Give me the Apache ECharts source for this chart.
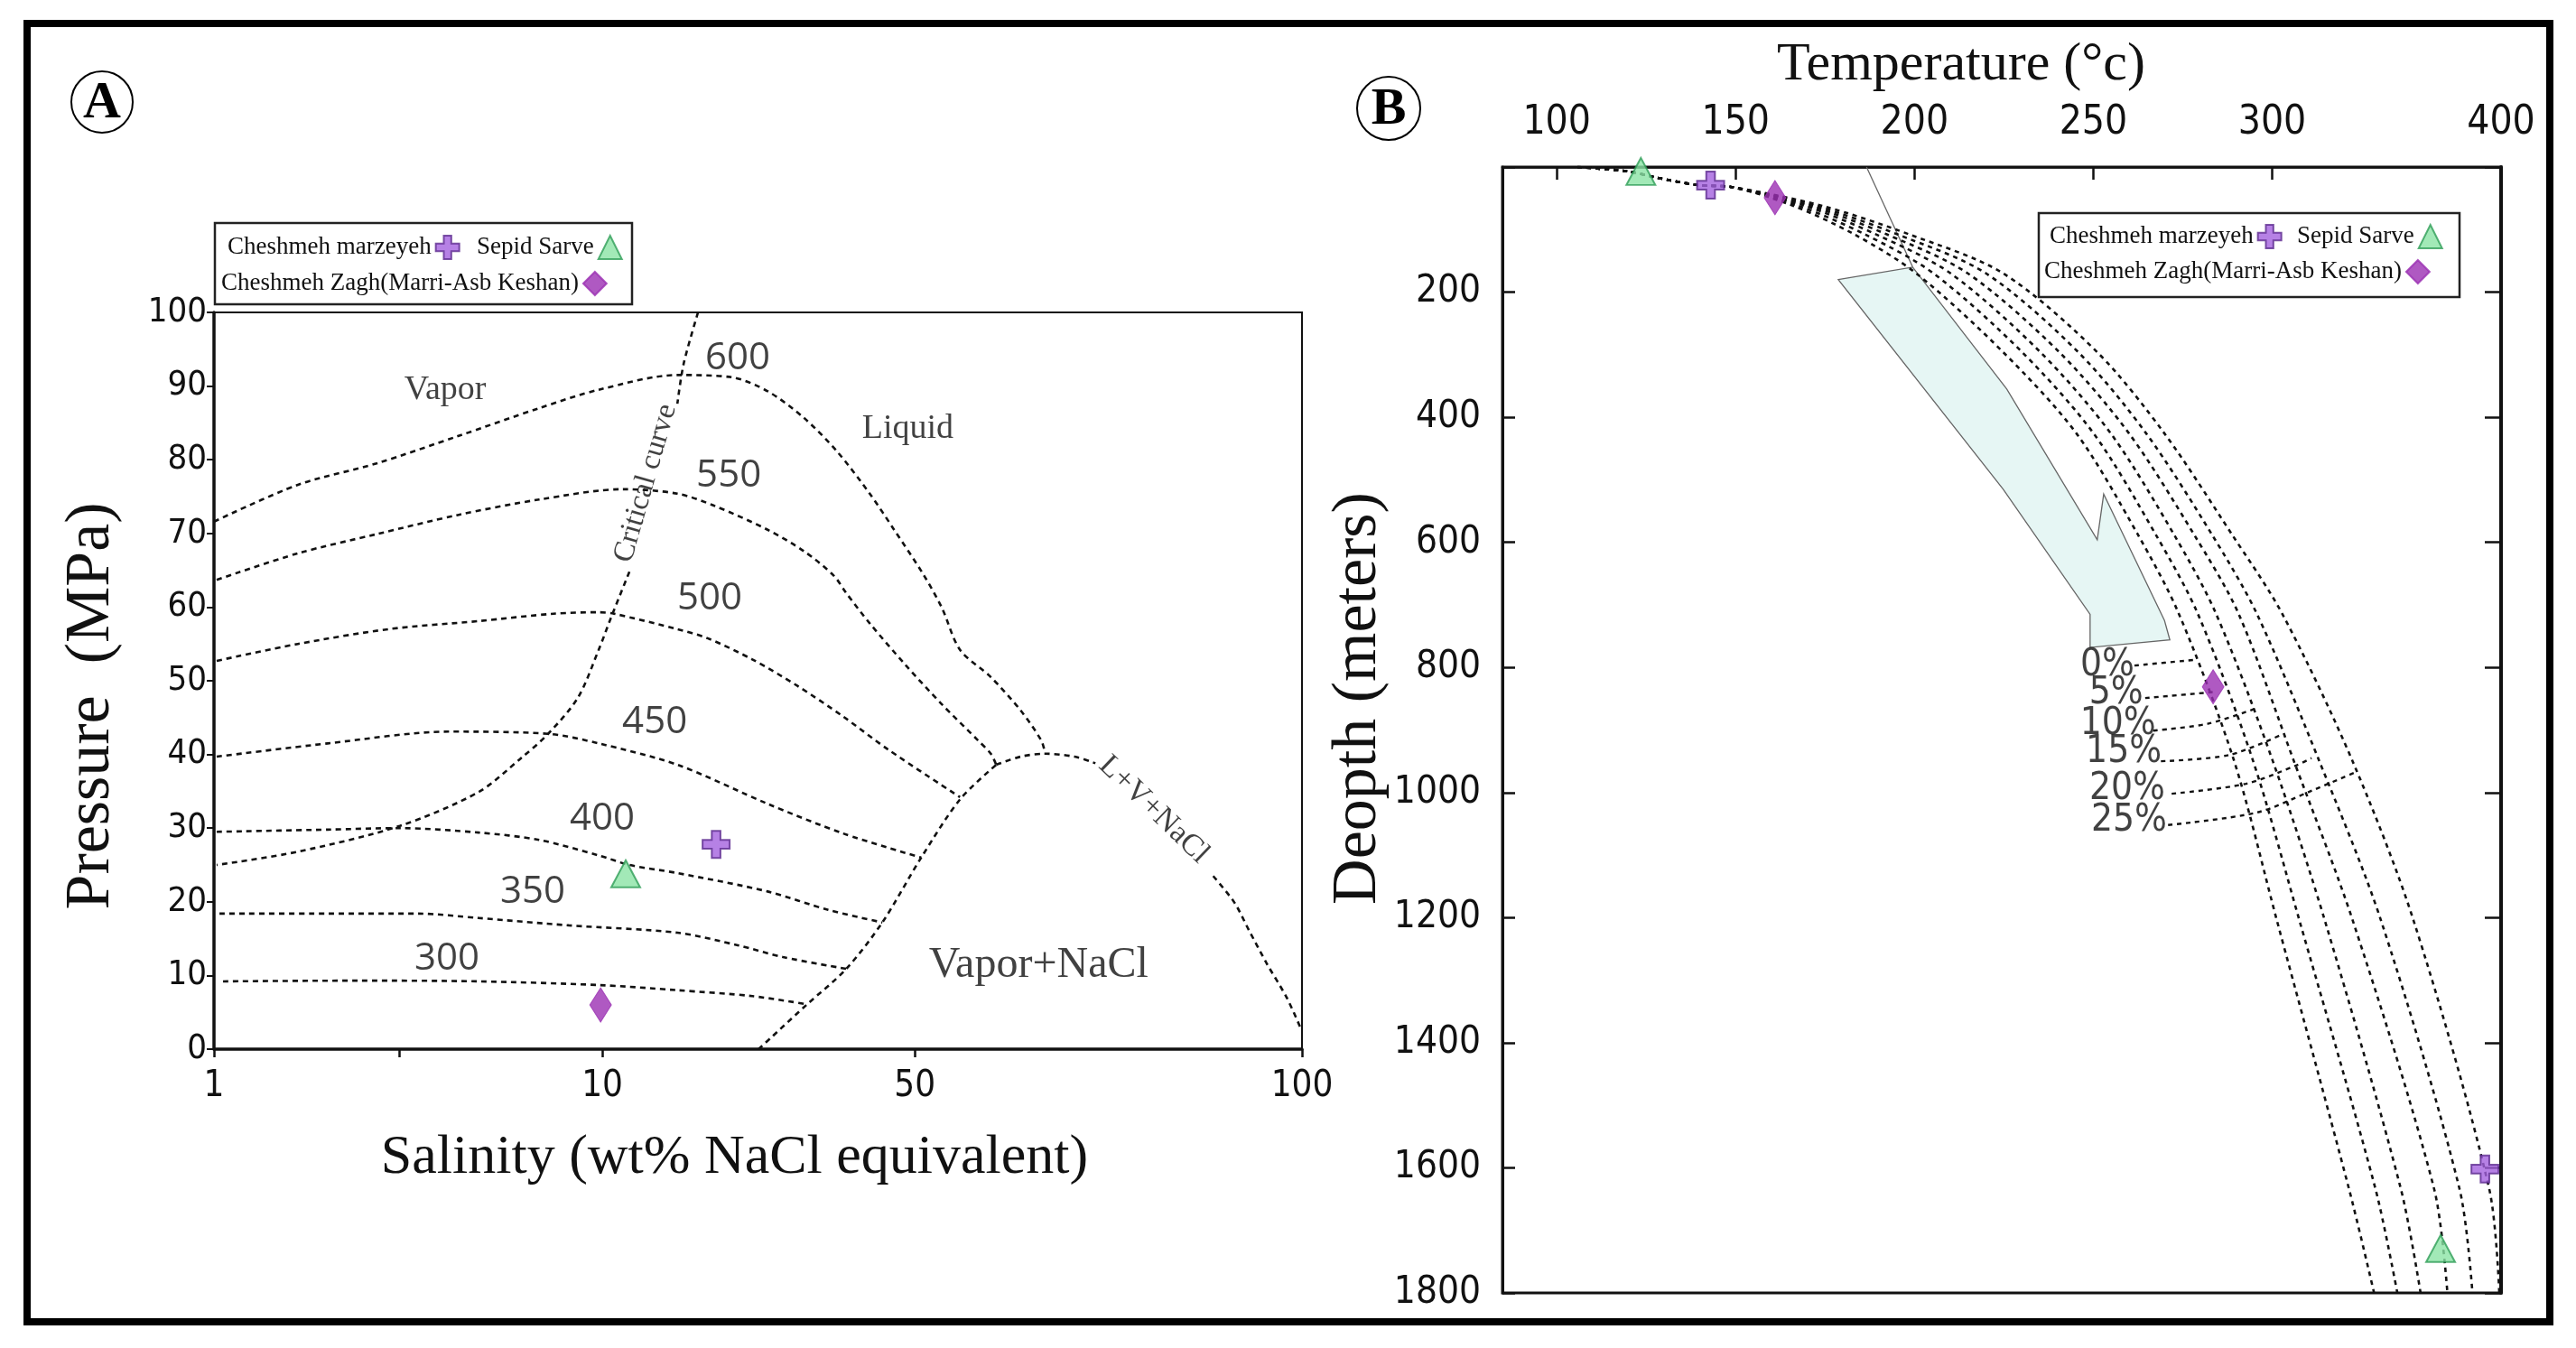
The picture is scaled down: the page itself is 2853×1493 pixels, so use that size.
<!DOCTYPE html>
<html><head><meta charset="utf-8">
<script src="https://cdn.jsdelivr.net/npm/echarts@6/dist/echarts.min.js"></script>
<style>html,body{margin:0;padding:0;background:#fff;}#c{width:2853px;height:1493px;}</style>
</head><body><div id="c"></div>
<script>
// ================= Panel A : Pressure vs Salinity =================
const salinityTickValues = [1, 3, 10, 50, 100];
const salinityLabelValues = [1, 10, 50, 100];
const salinityLabels = ['1', '10', '50', '100'];
// axis breaks (the salinity axis is a piecewise log scale)
const salinityKnots = [1, 10, 50, 100];
const salinityKnotUnits = [0, 1, 1.805, 2.802];

const iso600 = [[1.00,71.6],[1.645,76.6],[2.622,79.5],[4.246,83.2],[6.876,87.0],[9.788,89.5],[14.72,91.5],[19.45,91.2],[23.43,89.3],[28.22,85.7],[33.52,81.1],[39.63,75.4],[44.93,70.5],[50.82,64.3],[52.48,59.9],[54.21,54.2],[57.28,50.5],[60.41,46.0],[62.70,41.9],[63.10,40.3]];
const iso550 = [[1.016,63.7],[1.645,67.3],[2.622,69.9],[4.246,72.5],[6.876,74.6],[11.13,76.0],[14.72,75.4],[17.72,73.8],[23.43,70.5],[28.22,67.6],[32.90,64.3],[35.12,61.9],[39.63,57.8],[47.73,52.1],[52.48,46.8],[55.99,41.9],[57.28,40.1],[57.84,38.6]];
const iso500 = [[1.016,52.7],[1.645,55.0],[2.811,57.0],[4.802,58.1],[7.487,59.1],[9.788,59.3],[10.62,59.1],[14.72,57.0],[17.15,55.8],[21.65,52.9],[27.32,49.3],[34.47,45.2],[43.49,40.7],[54.21,34.2]];
const iso450 = [[1.016,39.7],[1.963,41.5],[4.024,43.1],[7.254,42.8],[9.788,41.5],[14.72,38.6],[23.43,33.3],[34.47,29.3],[50.57,26.0]];
const iso400 = [[1.016,29.5],[1.963,29.8],[3.01,30.0],[4.802,29.4],[6.876,28.4],[9.788,26.3],[11.50,25.0],[14.72,23.9],[23.43,21.4],[32.00,18.9],[42.29,17.2]];
const iso350 = [[1.033,18.4],[1.963,18.4],[3.355,18.4],[4.802,17.8],[8.204,16.8],[14.72,15.8],[20.09,14.1],[25.35,12.5],[35.12,10.9]];
const iso300 = [[1.055,9.2],[2.355,9.3],[4.802,9.2],[9.788,8.7],[14.72,8.0],[21.65,7.2],[28.61,6.1]];
const criticalUpper = [[16.37,100],[15.20,93.0],[14.72,87.6]];
const criticalLower = [[11.50,64.8],[10.48,58.7],[9.788,54.2],[8.653,47.7],[7.254,42.8],[6.177,39.5],[4.802,34.9],[3.01,30.3],[1.645,26.8],[1.016,25.0]];
const haliteBoundary = [[22.36,0],[28.61,6.0],[35.12,10.9],[42.29,17.2],[50.57,26.0],[54.21,33.9],[57.84,38.6]];
const threePhaseTop = [[57.84,38.6],[60.41,39.7],[63.10,40.1],[66.56,39.7],[69.08,38.8]];
const lvhLower = [[85.3,23.5],[88.6,19.9],[90.9,16.2],[93.9,11.6],[97.3,7.0],[99.84,2.7]];

const isoLabels = ['600','550','500','450','400','350','300'];
const isoLabelAt = [[20.09,93.75],[19.18,77.8],[17.39,61.2],[13.10,44.4],[10.0,31.25],[6.62,21.3],[3.98,12.25]];
const regionLabels = ['Vapor','Liquid','Vapor+NaCl'];
const regionLabelAt = [[3.94,89.5],[48.2,84.2],[62.4,11.3]];
const criticalLabel = 'Critical curve', criticalLabelAt = [12.5,76.8];
const lvhLabel = 'L+V+NaCl', lvhLabelAt = [76.7,32.5];

const sampleNames = ['Cheshmeh marzeyeh','Sepid Sarve','Cheshmeh Zagh(Marri-Asb Keshan)'];
const samplesA = [[17.97,27.8],[11.28,23.8],[9.9,6.0]];

// ================= Panel B : Depth vs Temperature =================
const tempTickValues = [100,150,200,250,300];
const tempLabelValues = [100,150,200,250,300,364];
const tempLabels = ['100','150','200','250','300','400'];
const depthLevels = [0,7,16,29,32,62,108,170,296,426,586,714,950,1204,1634,1800];
const bp0  = [105.8,120.0,127.1,139.7,148.9,166.1,183.3,200.5,224.8,245.3,262.3,273.9,289.4,301.3,321.5,328.5];
const bp5  = [105.8,120.0,127.1,139.7,148.9,167.6,186.3,205.3,230.1,250.1,267.3,279.2,294.7,307.6,328.9,335.0];
const bp10 = [105.8,120.0,127.1,139.7,148.9,169.4,189.4,210.1,235.2,254.9,272.4,284.3,300.2,314.7,336.0,341.5];
const bp15 = [105.8,120.0,127.1,139.7,148.9,170.9,192.4,214.9,240.5,260.0,278.0,290.6,306.1,322.5,345.3,349.0];
const bp20 = [105.8,120.0,127.1,139.7,148.9,172.4,195.4,220.0,245.8,264.8,283.0,295.7,313.2,330.4,352.4,356.0];
const bp25 = [105.8,120.0,127.1,139.7,148.9,174.2,198.7,224.8,251.1,269.9,288.6,302.8,322.5,339.5,360.7,363.5];
const pctLabels = ['0%','5%','10%','15%','20%','25%'];
const pctLabelAt = [[253.9,797],[256.4,841],[256.9,891],[258.5,935],[259.5,995],[260.0,1045]];
const leader0  = [[261.5,797],[278.2,788]];
const leader5  = [[264.5,849],[284.3,839]];
const leader10 = [[266.8,901],[282.0,890],[295.7,865]];
const leader15 = [[268.9,950],[288.0,940],[302.8,907]];
const leader20 = [[271.9,1002],[292.7,986],[307.0,956],[311.0,945]];
const leader25 = [[270.9,1052],[295.7,1032],[311.1,997],[323.5,967]];
const arrowOutline = [[178.7,180],[199.5,160],[225.8,355],[251.1,596],[252.9,523],[269.9,725],[271.4,756],[249.1,768],[249.1,715],[224.8,515]];
const arrowTail = [[186.6,0],[199.5,160]];
const samplesB = [
  [[143.0,29],[359.5,1602]],
  [[123.5,7],[347.1,1729]],
  [[161.0,49],[283.5,831]]
];

// ---------- helpers ----------
function toU(s){
  const L = Math.log10(s);
  for (let i = 0; i < salinityKnots.length - 1; i++) {
    const a = Math.log10(salinityKnots[i]), b = Math.log10(salinityKnots[i+1]);
    if (L <= b || i === salinityKnots.length - 2) {
      return salinityKnotUnits[i] + (L - a) / (b - a) * (salinityKnotUnits[i+1] - salinityKnotUnits[i]);
    }
  }
}
const mapA = pts => pts.map(p => [toU(p[0]), p[1]]);
const SERIF = '"Liberation Serif", "Times New Roman", serif';
const NARROW = '"Liberation Sans Narrow", "DejaVu Sans Condensed", "Open Sans", sans-serif';
const INK = '#111';
const dashA = {color: INK, width: 2.6, type: [6,5]};
const dashB = {color: INK, width: 2.6, type: [5,5]};

function lineA(name, pts){
  return {type:'line', name, xAxisIndex:0, yAxisIndex:0, data: mapA(pts), symbol:'none', smooth:0.3, lineStyle: dashA, silent:true, z:2};
}
function lineB(name, pts, w){
  return {type:'line', name, xAxisIndex:1, yAxisIndex:1, data: pts, symbol:'none', smooth:0.3, lineStyle: Object.assign({}, dashB, w ? {width:w} : {}), silent:true, z:3};
}
function labelSeries(ax, items, font, extra){
  return Object.assign({type:'scatter', xAxisIndex:ax, yAxisIndex:ax, symbol:'circle', symbolSize:1,
    itemStyle:{color:'rgba(0,0,0,0)'}, silent:true, z:6,
    data: items,
    label: Object.assign({show:true, position:'inside', formatter:'{b}', color: INK}, font)}, extra || {});
}

const crossPath = 'path://M34,0H66V34H100V66H66V100H34V66H0V34H34Z';
const sampleStyles = [
  {symbol: crossPath, symbolSize: 30, itemStyle:{color:'#a461de', borderColor:'#5d2a8f', borderWidth:2}},
  {symbol: 'triangle', symbolSize: [32,30], itemStyle:{color:'#8be3a5', borderColor:'#2f9e58', borderWidth:2}},
  {symbol: 'diamond', symbolSize: [24,38], itemStyle:{color:'#9b30b3', borderColor:'#9b30b3', borderWidth:1}}
];

const series = [];
[iso600, iso550, iso500, iso450, iso400, iso350, iso300].forEach((d,i) => series.push(lineA('iso' + isoLabels[i], d)));
series.push(lineA('critical-upper', criticalUpper));
series.push(lineA('critical-lower', criticalLower));
series.push(lineA('halite', haliteBoundary));
series.push(lineA('three-phase', threePhaseTop));
series.push(lineA('lvh', lvhLower));
series.push(labelSeries(0, isoLabels.map((t,i) => ({name:t, value:[toU(isoLabelAt[i][0]), isoLabelAt[i][1]]})),
  {fontFamily:'"Open Sans", sans-serif', fontSize:42}));
series.push(labelSeries(0, regionLabels.map((t,i) => ({name:t, value:[toU(regionLabelAt[i][0]), regionLabelAt[i][1]]})),
  {fontFamily: SERIF, fontSize:38}));
series[series.length-1].data[2].label = {fontSize:48};
series.push(labelSeries(0, [{name:criticalLabel, value:[toU(criticalLabelAt[0]), criticalLabelAt[1]]}],
  {fontFamily: SERIF, fontSize:33, rotate:74}));
series.push(labelSeries(0, [{name:lvhLabel, value:[toU(lvhLabelAt[0]), lvhLabelAt[1]]}],
  {fontFamily: SERIF, fontSize:34, rotate:-44}));

// Panel B arrow
series.push({type:'custom', xAxisIndex:1, yAxisIndex:1, silent:true, z:1, data:[arrowOutline[0]],
  renderItem: function(params, api){
    const pts = arrowOutline.map(p => api.coord(p));
    const tail = arrowTail.map(p => api.coord(p));
    return {type:'group', children:[
      {type:'polygon', shape:{points: pts}, style:{fill:'#e6f6f4', stroke:'#666', lineWidth:1.3}},
      {type:'polyline', shape:{points: tail}, style:{fill:null, stroke:'#666', lineWidth:1.3}}
    ]};
  }});
[bp0, bp5, bp10, bp15, bp20, bp25].forEach((t,i) => series.push(lineB('bp' + pctLabels[i], t.map((v,j) => [v, depthLevels[j]]))));
[leader0, leader5, leader10, leader15, leader20, leader25].forEach((d,i) => series.push(lineB('leader' + i, d, 2.4)));
series.push(labelSeries(1, pctLabels.map((t,i) => ({name:t, value:pctLabelAt[i]})), {fontFamily: NARROW, fontSize:42}));

// samples (both panels)
sampleNames.forEach((n,i) => {
  series.push(Object.assign({type:'scatter', name:n, xAxisIndex:0, yAxisIndex:0, z:8,
    data:[[toU(samplesA[i][0]), samplesA[i][1]]]}, sampleStyles[i]));
  series.push(Object.assign({type:'scatter', name:n, xAxisIndex:1, yAxisIndex:1, z:8, clip:false,
    data: samplesB[i]}, sampleStyles[i]));
});

// legends: one component per entry so the two-row layout of the figure is kept
const legendBase = {orient:'horizontal', align:'right', itemGap:8, itemWidth:26, itemHeight:26,
  padding:0, selectedMode:false, z:12,
  textStyle:{fontFamily: SERIF, fontSize:27, color: INK}};
function leg(name, left, top){ return Object.assign({data:[name], left, top}, legendBase); }

const tickFont = {fontFamily: NARROW, color: INK};

const option = {
  backgroundColor:'#fff',
  animation:false,
  grid:[
    {left:237, top:346, width:1205, height:816, show:true, borderColor:'#111', borderWidth:2, backgroundColor:'transparent'},
    {left:1664, top:185, width:1106, height:1247, show:true, borderColor:'#111', borderWidth:3, backgroundColor:'transparent'}
  ],
  legend:[
    leg(sampleNames[0], 252, 260), leg(sampleNames[1], 528, 260), leg(sampleNames[2], 245, 300),
    leg(sampleNames[0], 2270, 248), leg(sampleNames[1], 2544, 248), leg(sampleNames[2], 2264, 287)
  ],
  xAxis:[
    {type:'value', gridIndex:0, min:0, max: toU(100), position:'bottom',
     axisLine:{show:true, lineStyle:{color:'#111', width:3.5}},
     axisTick:{show:true, inside:false, length:9, lineStyle:{width:2.5}, customValues: salinityTickValues.map(toU)},
     axisLabel:Object.assign({show:true, fontSize:40, margin:22, customValues: salinityLabelValues.map(toU),
       formatter: v => { const i = salinityLabelValues.findIndex(s => Math.abs(toU(s) - v) < 1e-6); return i >= 0 ? salinityLabels[i] : ''; }}, tickFont),
     splitLine:{show:false},
     name:'Salinity (wt% NaCl equivalent)', nameLocation:'middle', nameGap:90,
     nameTextStyle:{fontFamily: SERIF, fontSize:62, color: INK, padding:[0,52,0,0]}},
    {type:'value', gridIndex:1, min:84.8, max:364, position:'top',
     axisLine:{show:true, lineStyle:{color:'#111', width:2.5}},
     axisTick:{show:true, inside:true, length:14, lineStyle:{width:2.5}, customValues: tempTickValues},
     axisLabel:Object.assign({show:true, fontSize:44, margin:26, customValues: tempLabelValues,
       formatter: v => { const i = tempLabelValues.findIndex(t => Math.abs(t - v) < 1e-6); return i >= 0 ? tempLabels[i] : ''; }}, tickFont),
     splitLine:{show:false},
     name:'Temperature (°c)', nameLocation:'middle', nameGap:83,
     nameTextStyle:{fontFamily: SERIF, fontSize:60, color: INK, padding:[0,90,0,0]}}
  ],
  yAxis:[
    {type:'value', gridIndex:0, min:0, max:100, interval:10,
     axisLine:{show:true, lineStyle:{color:'#111', width:3.5}},
     axisTick:{show:true, inside:false, length:8, lineStyle:{width:2}},
     axisLabel:Object.assign({show:true, fontSize:38, margin:8}, tickFont),
     splitLine:{show:false},
     name:'Pressure  (MPa)', nameLocation:'middle', nameGap:100, nameRotate:90,
     nameTextStyle:{fontFamily: SERIF, fontSize:70, color: INK, padding:[0,56,0,0]}},
    {type:'value', gridIndex:1, min:0, max:1800, interval:200, inverse:true,
     axisLine:{show:true, lineStyle:{color:'#111', width:3}},
     axisTick:{show:true, inside:true, length:14, lineStyle:{width:2.5}},
     axisLabel:Object.assign({show:true, fontSize:42, margin:24, formatter: v => v === 0 ? '' : String(v)}, tickFont),
     splitLine:{show:false},
     name:'Deopth (meters)', nameLocation:'middle', nameGap:112, nameRotate:90,
     nameTextStyle:{fontFamily: SERIF, fontSize:70, color: INK, padding:[0,0,0,70]}},
    {type:'value', gridIndex:1, min:0, max:1800, interval:200, inverse:true, position:'right',
     axisLine:{show:true, lineStyle:{color:'#111', width:4}},
     axisTick:{show:true, inside:true, length:18, lineStyle:{width:2.5}},
     axisLabel:{show:false}, splitLine:{show:false}}
  ],
  graphic:[
    {type:'rect', z:100, shape:{x:30, y:26, width:2794, height:1438}, style:{fill:null, stroke:'#000', lineWidth:8}},
    {type:'rect', z:5, shape:{x:238, y:247, width:462, height:90}, style:{fill:'#fff', stroke:'#222', lineWidth:2.5}},
    {type:'rect', z:5, shape:{x:2258, y:236, width:466, height:93}, style:{fill:'#fff', stroke:'#222', lineWidth:2.5}},
    {type:'circle', z:100, shape:{cx:113, cy:113, r:34}, style:{fill:'#fff', stroke:'#000', lineWidth:2}},
    {type:'text', z:101, x:113, y:115, style:{text:'A', font:'bold 58px "Liberation Serif"', fill:'#000', align:'center', verticalAlign:'middle'}},
    {type:'circle', z:100, shape:{cx:1538, cy:120, r:35}, style:{fill:'#fff', stroke:'#000', lineWidth:2}},
    {type:'text', z:101, x:1538, y:122, style:{text:'B', font:'bold 58px "Liberation Serif"', fill:'#000', align:'center', verticalAlign:'middle'}}
  ],
  series: series
};

const chart = echarts.init(document.getElementById('c'), null, {renderer:'canvas', width:2853, height:1493});
chart.setOption(option);
</script>
</body></html>
